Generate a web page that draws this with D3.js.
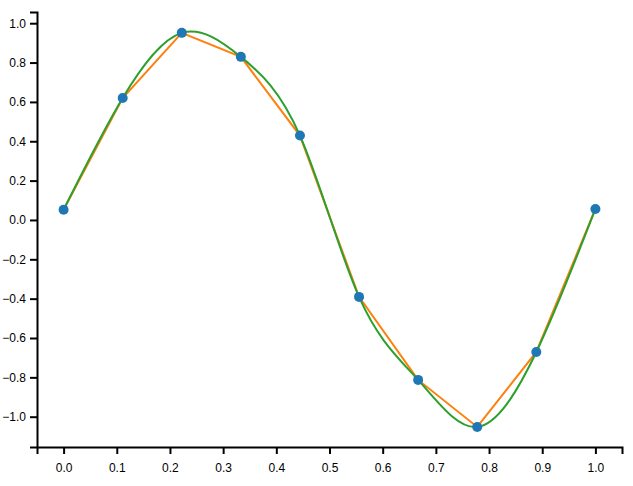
<!DOCTYPE html>
<html>
<head>
<meta charset="utf-8">
<script src="https://cdn.jsdelivr.net/npm/d3@7"></script>
<style>
  html, body { margin: 0; padding: 0; background: #fff; }
  svg { display: block; }
  .axis text { font-family: Arial, "Liberation Sans", sans-serif; font-size: 12px; fill: #000; }
  .axis path, .axis line { stroke: #000; stroke-width: 2; }
</style>
</head>
<body>
<svg id="chart" width="633" height="486"></svg>
<script>
const xValues = [0, 1/9, 2/9, 3/9, 4/9, 5/9, 6/9, 7/9, 8/9, 1];
const yValues = [0.052, 0.620, 0.951, 0.829, 0.429, -0.391, -0.813, -1.052, -0.671, 0.056];
const xTicks = [0, 0.1, 0.2, 0.3, 0.4, 0.5, 0.6, 0.7, 0.8, 0.9, 1.0];
const yTicks = [-1.0, -0.8, -0.6, -0.4, -0.2, 0.0, 0.2, 0.4, 0.6, 0.8, 1.0];

const svg = d3.select("#chart");
const x = d3.scaleLinear().domain([-0.05, 1.05]).range([37, 622]);
const y = d3.scaleLinear().domain([-1.154, 1.057]).range([447, 12]);

const pts = xValues.map((v, i) => [v, yValues[i]]);

svg.append("g").attr("class", "axis")
  .attr("transform", "translate(0,447)")
  .call(d3.axisBottom(x).tickValues(xTicks).tickFormat(d3.format(".1f")).tickSize(7).tickPadding(9));

svg.append("g").attr("class", "axis")
  .attr("transform", "translate(37,0)")
  .call(d3.axisLeft(y).tickValues(yTicks).tickFormat(d3.format(".1f")).tickSize(7).tickPadding(4));

svg.append("path").datum(pts)
  .attr("fill", "none").attr("stroke", "#ff7f0e").attr("stroke-width", 2)
  .attr("d", d3.line().x(d => x(d[0])).y(d => y(d[1])));

svg.append("path").datum(pts)
  .attr("fill", "none").attr("stroke", "#2ca02c").attr("stroke-width", 2)
  .attr("d", d3.line().curve(d3.curveNatural).x(d => x(d[0])).y(d => y(d[1])));

svg.selectAll("circle").data(pts).enter().append("circle")
  .attr("cx", d => x(d[0])).attr("cy", d => y(d[1])).attr("r", 5)
  .attr("fill", "#1f77b4");
</script>
</body>
</html>
